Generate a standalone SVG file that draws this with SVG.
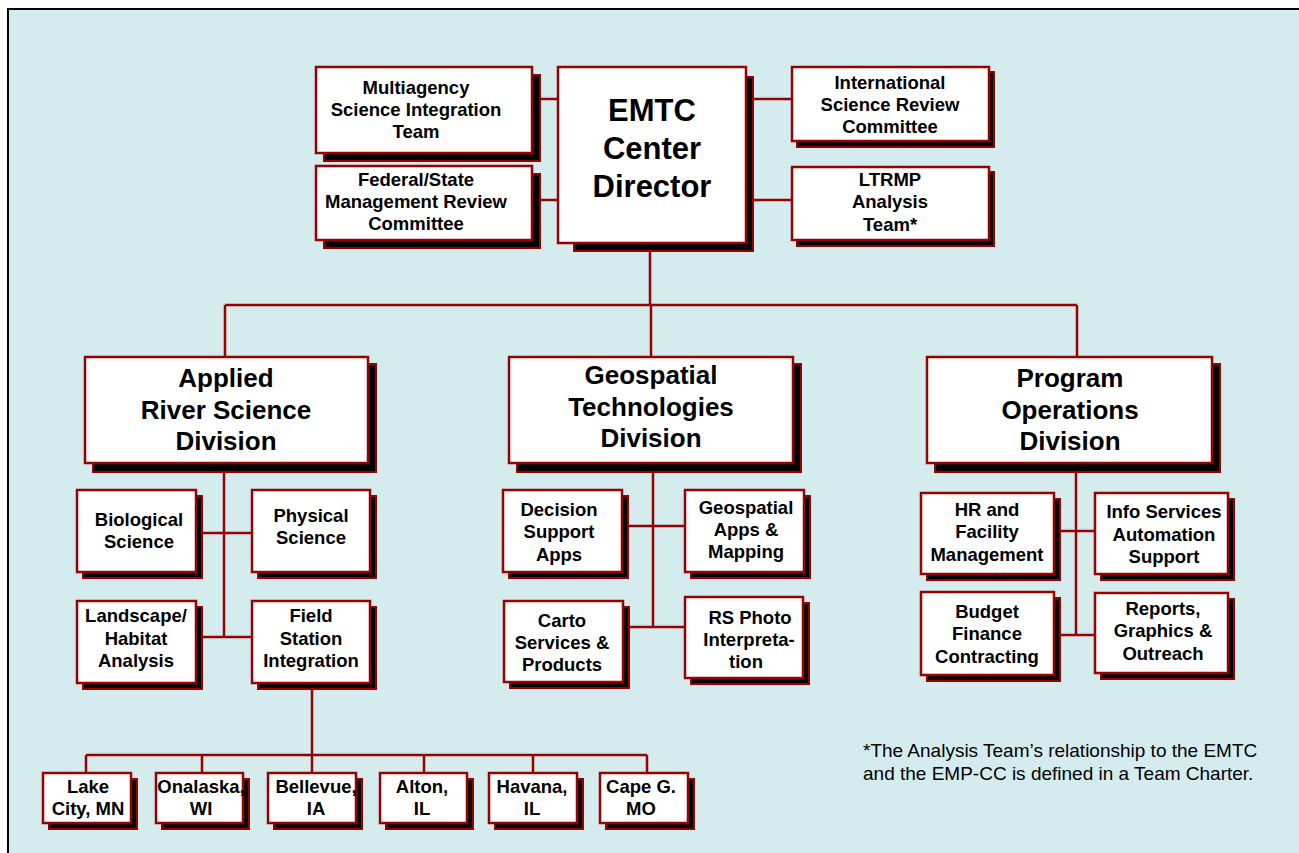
<svg xmlns="http://www.w3.org/2000/svg" width="1299" height="853" viewBox="0 0 1299 853">
<style>
.bg{fill:#D5ECEF;stroke:#000;stroke-width:2}
.sh{fill:#000;stroke:#990000;stroke-width:2}
.bx{fill:#fff;stroke:#990000;stroke-width:2.5}
.c{fill:none;stroke:#990000;stroke-width:2.5}
text{font-family:"Liberation Sans",Arial,sans-serif;font-weight:bold;fill:#000;text-anchor:middle}
.s{font-size:18.5px}
.d{font-size:26px}
.e{font-size:31px}
.f{font-size:19px;font-weight:normal;text-anchor:start}
</style>
<rect class="bg" x="8" y="9" width="1320" height="870"/>
<g id="connectors">
<path class="c" d="M532 99H558M532 200H558M746 99H792M746 200H792"/>
<path class="c" d="M650 243V305M225 305H1077M225 305V357M651 305V357M1077 305V357"/>
<path class="c" d="M224 463V637M196 533H252M196 637H252"/>
<path class="c" d="M653 463V627M622 526H685M623 627H685"/>
<path class="c" d="M1076 463V635M1054 531H1095M1054 635H1095"/>
<path class="c" d="M312 683V755M86 755H647M86 755V773M202 755V773M312 755V773M424 755V773M533 755V773M647 755V773"/>
</g>
<g id="multiagency"><rect class="sh" x="324" y="75" width="216" height="86"/><rect class="bx" x="316" y="67" width="216" height="86"/>
<text class="s" x="416"><tspan x="416" y="94">Multiagency</tspan><tspan x="416" y="116">Science Integration</tspan><tspan x="416" y="138">Team</tspan></text></g>
<g id="federal"><rect class="sh" x="324" y="174" width="216" height="74"/><rect class="bx" x="316" y="166" width="216" height="74"/>
<text class="s" x="416"><tspan x="416" y="186">Federal/State</tspan><tspan x="416" y="208">Management Review</tspan><tspan x="416" y="230">Committee</tspan></text></g>
<g id="emtc"><rect class="sh" x="574" y="77" width="179" height="174"/><rect class="bx" x="558" y="67" width="188" height="176"/>
<text class="e" x="652"><tspan x="652" y="121">EMTC</tspan><tspan x="652" y="159">Center</tspan><tspan x="652" y="197">Director</tspan></text></g>
<g id="international"><rect class="sh" x="797" y="72" width="197" height="75"/><rect class="bx" x="792" y="67" width="197" height="74"/>
<text class="s" x="890"><tspan x="890" y="89">International</tspan><tspan x="890" y="111">Science Review</tspan><tspan x="890" y="133">Committee</tspan></text></g>
<g id="ltrmp"><rect class="sh" x="797" y="172" width="197" height="74"/><rect class="bx" x="792" y="167" width="197" height="73"/>
<text class="s" x="890"><tspan x="890" y="186">LTRMP</tspan><tspan x="890" y="208">Analysis</tspan><tspan x="890" y="231">Team*</tspan></text></g>
<g id="applied"><rect class="sh" x="93" y="364" width="283" height="108"/><rect class="bx" x="85" y="357" width="283" height="106"/>
<text class="d" x="226"><tspan x="226" y="387">Applied</tspan><tspan x="226" y="419">River Science</tspan><tspan x="226" y="450">Division</tspan></text></g>
<g id="geospatial"><rect class="sh" x="517" y="364" width="284" height="108"/><rect class="bx" x="509" y="357" width="284" height="106"/>
<text class="d" x="651"><tspan x="651" y="384">Geospatial</tspan><tspan x="651" y="416">Technologies</tspan><tspan x="651" y="447">Division</tspan></text></g>
<g id="program"><rect class="sh" x="935" y="364" width="285" height="108"/><rect class="bx" x="927" y="357" width="285" height="106"/>
<text class="d" x="1070"><tspan x="1070" y="387">Program</tspan><tspan x="1070" y="419">Operations</tspan><tspan x="1070" y="450">Division</tspan></text></g>
<g id="biological"><rect class="sh" x="83" y="496" width="119" height="82"/><rect class="bx" x="77" y="490" width="119" height="82"/>
<text class="s"><tspan x="139" y="526">Biological</tspan><tspan x="139" y="548">Science</tspan></text></g>
<g id="physical"><rect class="sh" x="258" y="496" width="118" height="82"/><rect class="bx" x="252" y="490" width="118" height="82"/>
<text class="s"><tspan x="311" y="522">Physical</tspan><tspan x="311" y="544">Science</tspan></text></g>
<g id="landscape"><rect class="sh" x="83" y="607" width="119" height="82"/><rect class="bx" x="77" y="601" width="119" height="82"/>
<text class="s"><tspan x="136" y="622">Landscape/</tspan><tspan x="136" y="645">Habitat</tspan><tspan x="136" y="667">Analysis</tspan></text></g>
<g id="fieldstation"><rect class="sh" x="258" y="607" width="118" height="82"/><rect class="bx" x="252" y="601" width="118" height="82"/>
<text class="s"><tspan x="311" y="622">Field</tspan><tspan x="311" y="645">Station</tspan><tspan x="311" y="667">Integration</tspan></text></g>
<g id="decision"><rect class="sh" x="509" y="496" width="119" height="82"/><rect class="bx" x="503" y="490" width="119" height="82"/>
<text class="s"><tspan x="559" y="516">Decision</tspan><tspan x="559" y="538">Support</tspan><tspan x="559" y="561">Apps</tspan></text></g>
<g id="geoapps"><rect class="sh" x="691" y="496" width="119" height="82"/><rect class="bx" x="685" y="490" width="119" height="82"/>
<text class="s"><tspan x="746" y="514">Geospatial</tspan><tspan x="746" y="536">Apps &amp;</tspan><tspan x="746" y="558">Mapping</tspan></text></g>
<g id="carto"><rect class="sh" x="510" y="607" width="119" height="81"/><rect class="bx" x="504" y="601" width="119" height="81"/>
<text class="s"><tspan x="562" y="627">Carto</tspan><tspan x="562" y="649">Services &amp;</tspan><tspan x="562" y="671">Products</tspan></text></g>
<g id="rsphoto"><rect class="sh" x="691" y="603" width="118" height="81"/><rect class="bx" x="685" y="597" width="118" height="81"/>
<text class="s"><tspan x="750" y="624">RS Photo</tspan><tspan x="749" y="646">Interpreta-</tspan><tspan x="746" y="668">tion</tspan></text></g>
<g id="hr"><rect class="sh" x="927" y="499" width="133" height="81"/><rect class="bx" x="921" y="493" width="133" height="81"/>
<text class="s"><tspan x="987" y="516">HR and</tspan><tspan x="987" y="538">Facility</tspan><tspan x="987" y="561">Management</tspan></text></g>
<g id="info"><rect class="sh" x="1101" y="499" width="133" height="81"/><rect class="bx" x="1095" y="493" width="133" height="81"/>
<text class="s"><tspan x="1164" y="518">Info Services</tspan><tspan x="1164" y="541">Automation</tspan><tspan x="1164" y="563">Support</tspan></text></g>
<g id="budget"><rect class="sh" x="927" y="598" width="133" height="83"/><rect class="bx" x="921" y="592" width="133" height="83"/>
<text class="s"><tspan x="987" y="618">Budget</tspan><tspan x="987" y="640">Finance</tspan><tspan x="987" y="663">Contracting</tspan></text></g>
<g id="reports"><rect class="sh" x="1101" y="599" width="133" height="80"/><rect class="bx" x="1095" y="593" width="133" height="80"/>
<text class="s"><tspan x="1163" y="615">Reports,</tspan><tspan x="1163" y="637">Graphics &amp;</tspan><tspan x="1163" y="660">Outreach</tspan></text></g>
<g id="lakecity"><rect class="sh" x="49" y="779" width="88" height="50"/><rect class="bx" x="43" y="773" width="88" height="50"/>
<text class="s"><tspan x="88" y="793">Lake</tspan><tspan x="88" y="815">City, MN</tspan></text></g>
<g id="onalaska"><rect class="sh" x="162" y="779" width="87" height="50"/><rect class="bx" x="156" y="773" width="87" height="50"/>
<text class="s"><tspan x="201" y="793">Onalaska,</tspan><tspan x="201" y="815">WI</tspan></text></g>
<g id="bellevue"><rect class="sh" x="274" y="779" width="88" height="50"/><rect class="bx" x="268" y="773" width="88" height="50"/>
<text class="s"><tspan x="316" y="793">Bellevue,</tspan><tspan x="316" y="815">IA</tspan></text></g>
<g id="alton"><rect class="sh" x="386" y="779" width="87" height="50"/><rect class="bx" x="380" y="773" width="87" height="50"/>
<text class="s"><tspan x="422" y="793">Alton,</tspan><tspan x="422" y="815">IL</tspan></text></g>
<g id="havana"><rect class="sh" x="495" y="779" width="88" height="50"/><rect class="bx" x="489" y="773" width="88" height="50"/>
<text class="s"><tspan x="532" y="793">Havana,</tspan><tspan x="532" y="815">IL</tspan></text></g>
<g id="capeg"><rect class="sh" x="606" y="779" width="88" height="50"/><rect class="bx" x="600" y="773" width="88" height="50"/>
<text class="s"><tspan x="641" y="793">Cape G.</tspan><tspan x="641" y="815">MO</tspan></text></g>
<text class="f"><tspan x="863" y="757">*The Analysis Team’s relationship to the EMTC</tspan><tspan x="863" y="780">and the EMP-CC is defined in a Team Charter.</tspan></text>
</svg>
